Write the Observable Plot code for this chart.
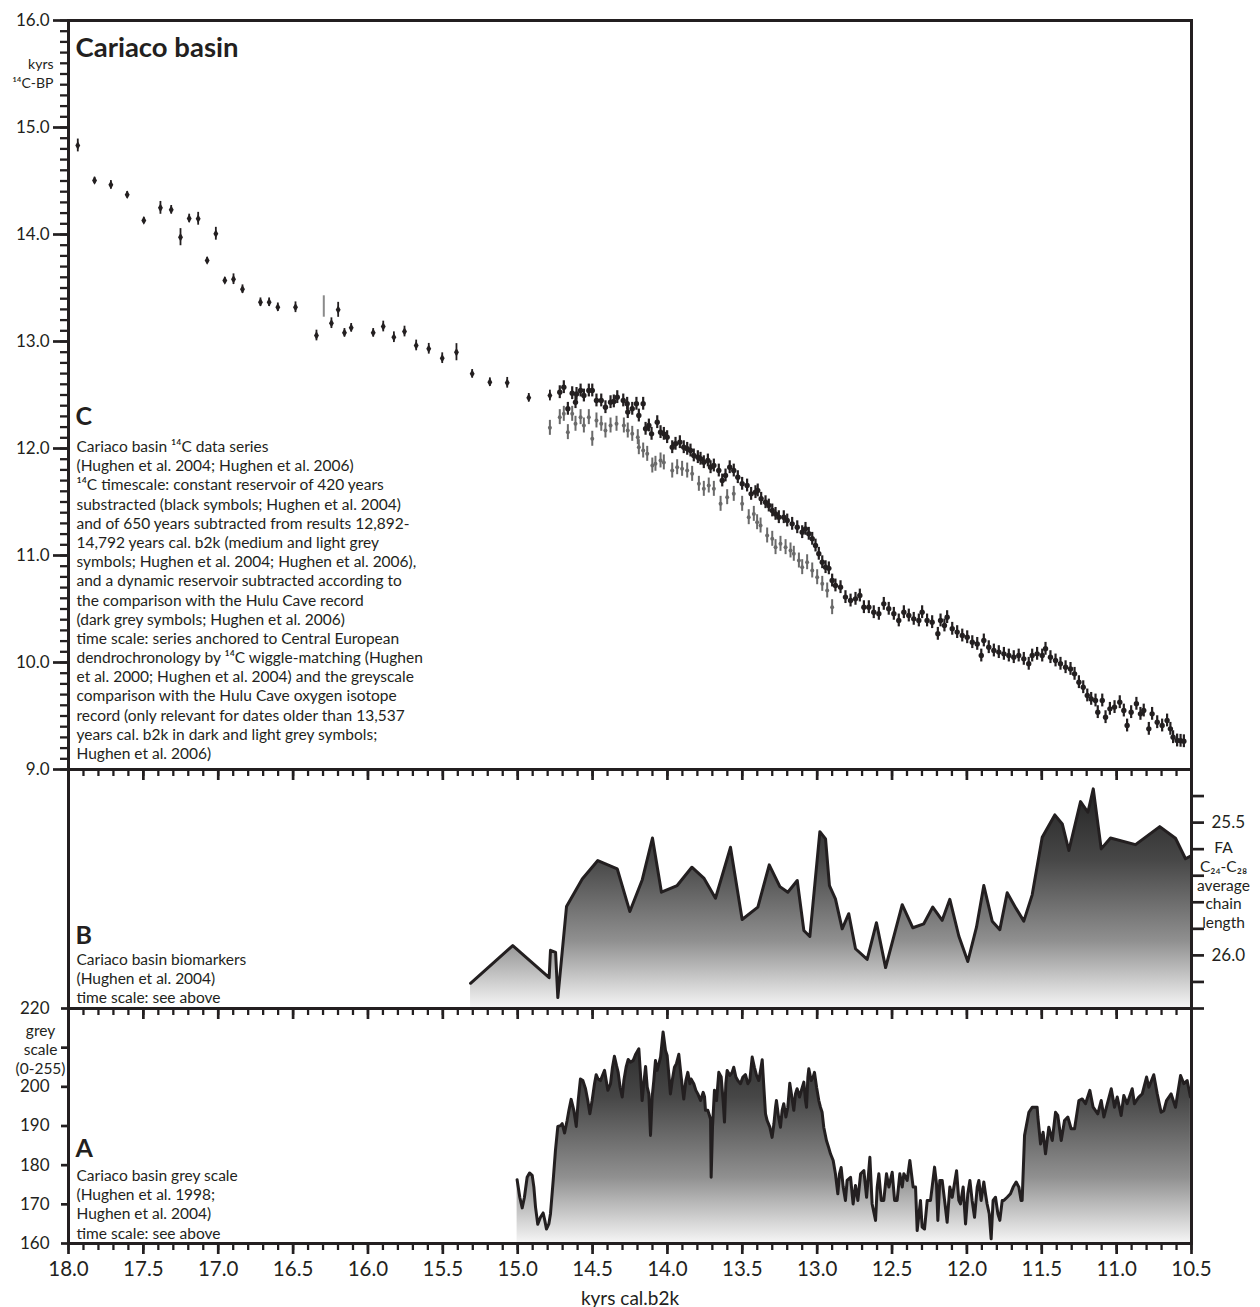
<!DOCTYPE html>
<html><head><meta charset="utf-8">
<script src="https://cdn.jsdelivr.net/npm/d3@7"></script>
<script src="https://cdn.jsdelivr.net/npm/@observablehq/plot@0.6"></script>
<style>
body{margin:0;background:#fff;}
#wrap{position:relative;width:1260px;height:1307px;}
#wrap svg{position:absolute;left:0;top:0;overflow:visible;background:transparent;}
</style></head><body><div id="wrap"></div>
<script>
// ---------- data ----------
const xDomain = [18, 10.5];
const xMinor = d3.range(105, 181).map(i => i / 10);
const xMajor = d3.range(21, 37).map(i => i / 2);
const cDomain = [9, 16];
const cMinor = d3.range(90, 161).map(i => i / 10);
const cMajor = [9, 10, 11, 12, 13, 14, 15, 16];
const bDomain = [25.3, 26.2];
const bTicks = [25.4, 25.5, 25.6, 25.7, 25.8, 25.9, 26.0, 26.1, 26.2];
const bLabels = [25.5, 26.0];
const aDomain = [160, 220];
const aTicks = [160, 170, 180, 190, 200, 210, 220];
const aLabels = [160, 170, 180, 190, 200, 220];

// Panel C: 14C ages [cal kyr b2k, 14C kyr BP, error]
const c14Sparse = [
 [17.938,14.832,0.06],[17.826,14.505,0.03],[17.717,14.464,0.04],[17.608,14.371,0.03],[17.497,14.131,0.03],
 [17.386,14.249,0.06],[17.314,14.231,0.04],[17.252,13.975,0.08],[17.194,14.150,0.04],[17.134,14.147,0.06],
 [17.074,13.757,0.03],[17.016,14.007,0.06],[16.956,13.570,0.03],[16.898,13.582,0.05],[16.838,13.489,0.04],
 [16.718,13.367,0.04],[16.660,13.367,0.04],[16.602,13.320,0.04],[16.484,13.320,0.05],[16.344,13.056,0.05],
 [16.244,13.171,0.05],[16.199,13.296,0.07],[16.157,13.081,0.04],[16.112,13.128,0.04],[15.965,13.081,0.04],
 [15.898,13.140,0.05],[15.827,13.040,0.05],[15.756,13.093,0.05],[15.678,12.963,0.05],[15.594,12.932,0.05],
 [15.504,12.844,0.05],[15.409,12.900,0.08],[15.304,12.698,0.04],[15.186,12.620,0.04],[15.070,12.614,0.05],
 [14.926,12.474,0.04],[14.785,12.495,0.05]
];
const c14Light = [[16.295,13.327,0.1]];
const c14Black = [
 [14.719,12.526],[14.692,12.573],[14.665,12.371],[14.636,12.517],[14.614,12.433],[14.607,12.510],[14.580,12.542],
 [14.558,12.495],[14.525,12.542],[14.502,12.542],[14.474,12.449],[14.442,12.449],[14.414,12.386],[14.380,12.433],
 [14.358,12.440],[14.335,12.480],[14.295,12.449],[14.269,12.418],[14.265,12.340],[14.235,12.371],[14.207,12.418],
 [14.191,12.308],[14.162,12.418],[14.146,12.184],[14.124,12.215],[14.106,12.137],[14.068,12.246],[14.046,12.153],
 [14.024,12.137],[14.002,12.106],[13.968,12.012],[13.946,12.044],[13.917,12.059],[13.891,12.012],[13.868,11.997],
 [13.846,11.981],[13.824,11.935],[13.797,11.919],[13.779,11.904],[13.757,11.872],[13.730,11.888],[13.712,11.825],
 [13.690,11.841],[13.657,11.794],[13.634,11.701],[13.612,11.748],[13.584,11.825],[13.557,11.794],[13.530,11.732],
 [13.501,11.670],[13.468,11.654],[13.441,11.576],[13.412,11.592],[13.397,11.608],[13.374,11.530],[13.345,11.498],
 [13.323,11.467],[13.300,11.421],[13.278,11.389],[13.256,11.358],[13.223,11.358],[13.200,11.327],[13.167,11.296],
 [13.133,11.264],[13.100,11.218],[13.078,11.249],[13.056,11.203],[13.033,11.156],[13.011,11.093],[12.989,11.016],
 [12.966,10.937],[12.944,10.891],[12.922,10.880],[12.900,10.766],[12.878,10.720],[12.844,10.704],[12.811,10.611],
 [12.777,10.579],[12.744,10.595],[12.715,10.626],[12.688,10.517],[12.655,10.517],[12.622,10.470],[12.588,10.455],
 [12.555,10.548],[12.522,10.502],[12.488,10.455],[12.455,10.393],[12.421,10.470],[12.388,10.439],[12.355,10.408],
 [12.321,10.393],[12.299,10.470],[12.266,10.393],[12.232,10.377],[12.194,10.268],[12.176,10.393],[12.150,10.346],
 [12.132,10.424],[12.098,10.315],[12.065,10.284],[12.031,10.252],[11.998,10.236],[11.964,10.190],[11.931,10.174],
 [11.904,10.065],[11.887,10.206],[11.854,10.143],[11.820,10.112],[11.787,10.097],[11.753,10.081],[11.720,10.065],
 [11.687,10.050],[11.654,10.065],[11.620,10.034],[11.587,9.988],[11.564,10.065],[11.531,10.081],[11.497,10.065],
 [11.475,10.128],[11.442,10.050],[11.408,10.019],[11.375,9.988],[11.341,9.956],[11.308,9.940],[11.281,9.894],
 [11.252,9.816],[11.223,9.769],[11.196,9.692],[11.170,9.660],[11.141,9.645],[11.126,9.536],[11.096,9.645],
 [11.074,9.489],[11.045,9.567],[11.014,9.583],[10.979,9.629],[10.952,9.551],[10.930,9.411],[10.903,9.536],
 [10.868,9.614],[10.841,9.520],[10.819,9.551],[10.785,9.380],[10.763,9.520],[10.729,9.442],[10.696,9.411],
 [10.663,9.458],[10.641,9.380],[10.623,9.302],[10.596,9.271],[10.573,9.268],[10.551,9.264]
];
const c14Grey = [
 [14.785,12.193],[14.719,12.293],[14.692,12.324],[14.665,12.153],[14.636,12.324],[14.614,12.231],[14.580,12.293],
 [14.558,12.215],[14.525,12.293],[14.502,12.091],[14.474,12.262],[14.442,12.231],[14.414,12.168],[14.380,12.215],
 [14.340,12.231],[14.291,12.215],[14.265,12.168],[14.235,12.137],[14.198,12.106],[14.191,12.012],[14.162,11.981],
 [14.135,11.950],[14.101,11.841],[14.080,11.857],[14.046,11.888],[14.024,11.870],[13.968,11.794],[13.935,11.825],
 [13.902,11.810],[13.868,11.794],[13.835,11.763],[13.790,11.670],[13.757,11.623],[13.724,11.654],[13.690,11.623],
 [13.645,11.483],[13.601,11.545],[13.557,11.576],[13.501,11.483],[13.457,11.358],[13.423,11.389],[13.401,11.311],
 [13.378,11.280],[13.334,11.187],[13.300,11.156],[13.278,11.078],[13.245,11.109],[13.211,11.078],[13.178,11.047],
 [13.156,11.016],[13.122,10.953],[13.100,10.891],[13.067,10.937],[13.033,10.860],[13.000,10.797],[12.966,10.735],
 [12.933,10.673],[12.900,10.517]
];
const c14BlackErr = 0.06;
const c14GreyErr = 0.07;

// Panel B: FA C24-C28 average chain length
const biomarker = [
 [15.315,26.105],[15.033,25.963],[14.790,26.084],[14.781,25.981],[14.747,25.989],[14.732,26.159],[14.674,25.816],
 [14.569,25.712],[14.465,25.643],[14.335,25.674],[14.251,25.835],[14.168,25.715],[14.100,25.558],[14.040,25.762],
 [13.935,25.737],[13.837,25.668],[13.757,25.709],[13.679,25.785],[13.579,25.593],[13.501,25.865],[13.396,25.818],
 [13.320,25.659],[13.249,25.741],[13.196,25.762],[13.133,25.718],[13.089,25.906],[13.049,25.929],[12.982,25.534],
 [12.944,25.561],[12.918,25.737],[12.878,25.787],[12.833,25.900],[12.789,25.843],[12.744,25.975],[12.666,26.015],
 [12.604,25.877],[12.543,26.046],[12.432,25.809],[12.361,25.896],[12.288,25.881],[12.228,25.818],[12.165,25.868],
 [12.114,25.789],[12.054,25.927],[11.994,26.023],[11.936,25.894],[11.887,25.737],[11.831,25.871],[11.780,25.903],
 [11.731,25.764],[11.671,25.824],[11.620,25.871],[11.564,25.772],[11.497,25.555],[11.413,25.471],[11.363,25.505],
 [11.319,25.605],[11.241,25.421],[11.192,25.461],[11.156,25.373],[11.103,25.599],[11.041,25.558],[10.874,25.583],
 [10.712,25.515],[10.607,25.559],[10.540,25.636],[10.500,25.624]
];

// Panel A: grey scale (0-255)
const greyScale = [
 [15.004,176.3],[14.986,171.8],[14.970,169.1],[14.955,171.8],[14.937,176.9],[14.921,178.0],[14.903,177.4],[14.892,174.4],
 [14.881,169.3],[14.866,164.9],[14.848,166.7],[14.830,167.8],[14.819,165.9],[14.808,163.7],[14.792,165.0],[14.781,167.6],
 [14.763,176.1],[14.748,183.7],[14.732,189.9],[14.714,190.1],[14.703,190.6],[14.687,188.2],[14.670,191.4],[14.658,194.0],
 [14.643,196.8],[14.625,194.0],[14.609,189.9],[14.596,196.5],[14.581,202.0],[14.565,201.6],[14.547,199.5],[14.532,196.5],
 [14.518,193.1],[14.503,196.5],[14.487,200.8],[14.476,203.1],[14.463,202.0],[14.447,201.6],[14.434,202.9],[14.420,204.2],
 [14.409,201.6],[14.398,199.1],[14.380,200.8],[14.367,205.0],[14.354,207.8],[14.340,205.4],[14.329,203.7],[14.316,199.9],
 [14.302,197.4],[14.291,201.6],[14.276,205.0],[14.262,207.0],[14.247,206.3],[14.229,206.7],[14.211,208.4],[14.191,209.7],
 [14.180,203.3],[14.169,196.5],[14.158,200.8],[14.146,205.2],[14.135,199.9],[14.124,198.2],[14.113,187.6],[14.102,197.4],
 [14.091,201.6],[14.080,206.7],[14.069,204.2],[14.057,205.9],[14.046,207.6],[14.029,214.0],[14.013,209.3],[14.002,208.0],
 [13.991,203.3],[13.980,198.2],[13.968,201.6],[13.953,205.0],[13.940,205.9],[13.924,208.3],[13.908,202.5],[13.891,196.9],
 [13.877,201.6],[13.864,203.7],[13.850,200.8],[13.842,202.0],[13.824,200.8],[13.810,199.1],[13.797,198.2],[13.779,196.5],
 [13.761,198.6],[13.752,197.4],[13.746,194.0],[13.730,194.0],[13.712,191.8],[13.708,176.9],[13.699,189.7],[13.686,199.1],
 [13.672,196.5],[13.657,203.7],[13.641,202.5],[13.628,196.5],[13.619,191.0],[13.610,200.8],[13.601,204.2],[13.583,202.9],
 [13.568,203.7],[13.557,205.0],[13.543,202.5],[13.530,201.6],[13.512,200.8],[13.496,202.5],[13.479,203.1],[13.463,200.8],
 [13.450,201.6],[13.434,207.6],[13.419,205.0],[13.405,202.9],[13.390,201.6],[13.378,204.2],[13.367,206.9],[13.356,199.9],
 [13.345,193.1],[13.334,191.4],[13.316,189.7],[13.301,187.1],[13.289,190.5],[13.278,194.8],[13.272,196.5],[13.258,192.3],
 [13.245,189.7],[13.234,194.0],[13.223,195.7],[13.209,192.3],[13.196,194.8],[13.183,200.9],[13.169,197.4],[13.156,194.0],
 [13.145,198.2],[13.134,199.5],[13.118,197.4],[13.102,199.5],[13.089,201.2],[13.078,196.5],[13.071,194.8],[13.062,202.5],
 [13.056,204.6],[13.040,201.6],[13.027,202.5],[13.018,203.7],[13.004,199.9],[12.989,196.5],[12.978,194.8],[12.967,193.5],
 [12.956,189.7],[12.938,186.3],[12.924,184.6],[12.911,182.9],[12.893,181.2],[12.878,177.8],[12.862,172.7],[12.851,177.8],
 [12.840,179.4],[12.826,174.4],[12.811,171.0],[12.800,176.1],[12.777,176.9],[12.760,170.1],[12.744,174.8],[12.728,171.0],
 [12.710,177.8],[12.688,178.6],[12.670,171.8],[12.648,182.0],[12.633,170.1],[12.610,165.9],[12.599,174.4],[12.588,177.8],
 [12.572,171.0],[12.555,171.0],[12.537,177.8],[12.521,174.4],[12.499,178.2],[12.483,171.0],[12.466,171.0],[12.448,177.8],
 [12.432,174.4],[12.421,177.8],[12.399,176.1],[12.381,181.2],[12.359,174.4],[12.343,174.4],[12.332,163.3],[12.310,171.0],
 [12.299,164.2],[12.283,163.7],[12.265,171.0],[12.243,171.0],[12.216,179.5],[12.203,175.2],[12.194,165.9],[12.181,176.1],
 [12.165,176.1],[12.149,171.0],[12.132,165.4],[12.114,174.4],[12.098,171.8],[12.069,178.6],[12.054,171.0],[12.043,170.1],
 [12.025,174.4],[12.009,165.0],[11.994,172.7],[11.980,176.1],[11.965,171.0],[11.949,166.7],[11.931,174.4],[11.920,176.1],
 [11.905,171.0],[11.887,175.7],[11.876,172.7],[11.865,170.1],[11.851,167.6],[11.838,161.2],[11.825,171.0],[11.809,171.8],
 [11.793,167.6],[11.780,165.9],[11.764,171.0],[11.753,171.0],[11.731,171.8],[11.709,172.7],[11.691,174.4],[11.671,175.7],
 [11.653,174.4],[11.638,171.0],[11.631,171.0],[11.615,187.6],[11.586,193.5],[11.564,194.8],[11.531,194.8],[11.526,192.3],
 [11.508,185.4],[11.491,188.4],[11.475,182.9],[11.453,189.7],[11.430,186.3],[11.408,193.5],[11.393,192.7],[11.370,186.3],
 [11.348,191.4],[11.326,192.3],[11.304,189.3],[11.281,189.3],[11.252,196.5],[11.230,196.9],[11.208,195.7],[11.179,199.1],
 [11.157,194.8],[11.126,193.1],[11.103,196.5],[11.085,192.3],[11.036,199.5],[11.014,194.8],[10.996,197.4],[10.970,192.7],
 [10.952,197.8],[10.930,195.7],[10.896,199.5],[10.881,195.7],[10.852,197.4],[10.829,198.2],[10.800,202.5],[10.785,199.9],
 [10.752,203.1],[10.729,198.2],[10.703,193.5],[10.685,193.9],[10.667,196.5],[10.636,198.2],[10.607,194.8],[10.573,202.9],
 [10.551,200.8],[10.529,201.6],[10.507,197.4]
];

const titleText = "Cariaco basin";
const cText = ["Cariaco basin ¹⁴C data series","(Hughen et al. 2004; Hughen et al. 2006)","¹⁴C timescale: constant reservoir of 420 years","substracted (black symbols; Hughen et al. 2004)","and of 650 years subtracted from results 12,892-","14,792 years cal. b2k (medium and light grey","symbols; Hughen et al. 2004; Hughen et al. 2006),","and a dynamic reservoir subtracted according to","the comparison with the Hulu Cave record","(dark grey symbols; Hughen et al. 2006)","time scale: series anchored to Central European","dendrochronology by ¹⁴C wiggle-matching (Hughen","et al. 2000; Hughen et al. 2004) and the greyscale","comparison with the Hulu Cave oxygen isotope","record (only relevant for dates older than 13,537","years cal. b2k in dark and light grey symbols;","Hughen et al. 2006)"];
const bText = ["Cariaco basin biomarkers","(Hughen et al. 2004)","time scale: see above"];
const aText = ["Cariaco basin grey scale","(Hughen et al. 1998;","Hughen et al. 2004)","time scale: see above"];
const cUnit = ["kyrs","¹⁴C-BP"];
const bUnit = ["FA","C₂₄-C₂₈","average","chain","length"];
const aUnit = ["grey","scale","(0-255)"];
const xLabel = "kyrs cal.b2k";

// ---------- layout ----------
const W = 1260, H = 1307;
const ML = 68, MR = 69;
const cTop = 20, cBot = 769, bBot = 1008, aBot = 1243;
const INK = "#231f20";
const FONT = "Lato, 'Open Sans', sans-serif";
const wrap = document.getElementById("wrap");

function xAxes(withLabels) {
  return [
    Plot.axisX(xMinor, {anchor: "bottom", tickSize: 7, strokeWidth: 2.3, tickFormat: () => "", label: null, color: INK}),
    Plot.axisX(xMajor, {anchor: "bottom", tickSize: 11, strokeWidth: 2.7, tickPadding: 7, fontSize: 20.5,
      tickFormat: withLabels ? (d => d.toFixed(1)) : (() => ""), label: null, color: INK})
  ];
}
function txt(lines, o) {
  return Plot.text([lines.join("\n")], Object.assign({text: d => d, fill: INK, fontFamily: FONT}, o));
}
function addGradient(svg, id, y0, y1) {
  const lg = d3.select(svg).insert("defs", ":first-child").append("linearGradient")
    .attr("id", id).attr("gradientUnits", "userSpaceOnUse")
    .attr("x1", 0).attr("x2", 0).attr("y1", y0).attr("y2", y1);
  [[0, "#1a1a1a"], [0.38, "#474747"], [0.72, "#909090"], [1, "#f6f6f6"]]
    .forEach(([o, c]) => lg.append("stop").attr("offset", o).attr("stop-color", c));
}
const common = {width: W, height: H, marginLeft: ML, marginRight: MR,
  style: {background: "transparent", overflow: "visible", fontFamily: FONT}};

// ---------- Panel C ----------
const pC = Plot.plot({...common, marginTop: cTop, marginBottom: H - cBot,
  x: {domain: xDomain}, y: {domain: cDomain},
  marks: [
    Plot.axisY(cMinor, {anchor: "left", tickSize: 8, strokeWidth: 2.3, tickFormat: () => "", label: null, color: INK}),
    Plot.axisY(cMajor, {anchor: "left", tickSize: 15, strokeWidth: 2.7, tickPadding: 4, fontSize: 17,
      tickFormat: d => d.toFixed(1), label: null, color: INK}),
    ...xAxes(false),
    Plot.ruleX(c14Light, {x: d => d[0], y1: d => d[1] - d[2], y2: d => d[1] + d[2], stroke: "#8a8a8a", strokeWidth: 2}),
    Plot.ruleX(c14Grey, {x: d => d[0], y1: d => d[1] - c14GreyErr, y2: d => d[1] + c14GreyErr, stroke: "#6a6a6a", strokeWidth: 2}),
    Plot.dot(c14Grey, {x: d => d[0], y: d => d[1], r: 2, fill: "#6a6a6a"}),
    Plot.ruleX(c14Sparse, {x: d => d[0], y1: d => d[1] - d[2], y2: d => d[1] + d[2], stroke: INK, strokeWidth: 1.8}),
    Plot.dot(c14Sparse, {x: d => d[0], y: d => d[1], r: 2.6, symbol: "diamond", fill: INK}),
    Plot.ruleX(c14Black, {x: d => d[0], y1: d => d[1] - c14BlackErr, y2: d => d[1] + c14BlackErr, stroke: INK, strokeWidth: 2.2}),
    Plot.dot(c14Black, {x: d => d[0], y: d => d[1], r: 2.7, fill: INK}),
    Plot.frame({stroke: INK, strokeWidth: 3}),
    txt([titleText], {frameAnchor: "top-left", dx: 7, dy: 17, fontSize: 27.5, fontWeight: 700, lineAnchor: "top"}),
    txt(cUnit, {frameAnchor: "top-left", dx: -15, dy: 35, fontSize: 14, lineAnchor: "top", textAnchor: "end", lineHeight: 1.35}),
    txt(["C"], {frameAnchor: "top-left", dx: 7, dy: 387, fontSize: 25, fontWeight: 700, lineAnchor: "top"}),
    txt(cText, {frameAnchor: "top-left", dx: 8, dy: 418, fontSize: 15.5, lineAnchor: "top", lineHeight: 1.237})
  ]});
wrap.appendChild(pC);

// ---------- Panel B ----------
const pB = Plot.plot({...common, marginTop: cBot, marginBottom: H - bBot,
  x: {domain: xDomain}, y: {domain: bDomain, reverse: true},
  marks: [
    Plot.areaY(biomarker, {x: d => d[0], y1: () => bDomain[1], y2: d => d[1], fill: "url(#gradB)"}),
    Plot.lineY(biomarker, {x: d => d[0], y: d => d[1], stroke: INK, strokeWidth: 3}),
    Plot.axisY(bTicks, {anchor: "right", tickSize: 12, strokeWidth: 2.7, tickPadding: 8, fontSize: 17,
      tickFormat: d => bLabels.includes(d) ? d.toFixed(1) : "", label: null, color: INK}),
    ...xAxes(false),
    Plot.frame({stroke: INK, strokeWidth: 3}),
    txt(["B"], {frameAnchor: "top-left", dx: 7, dy: 157, fontSize: 25, fontWeight: 700, lineAnchor: "top"}),
    txt(bText, {frameAnchor: "top-left", dx: 8, dy: 182, fontSize: 15.5, lineAnchor: "top", lineHeight: 1.237}),
    txt(bUnit, {frameAnchor: "top-right", dx: 32, dy: 115, fontSize: 15.5, lineAnchor: "middle", textAnchor: "middle", lineHeight: 1.22})
  ]});
addGradient(pB, "gradB", cBot, bBot);
wrap.appendChild(pB);

// ---------- Panel A ----------
const pA = Plot.plot({...common, marginTop: bBot, marginBottom: H - aBot,
  x: {domain: xDomain}, y: {domain: aDomain},
  marks: [
    Plot.areaY(greyScale, {x: d => d[0], y1: () => aDomain[0], y2: d => d[1], fill: "url(#gradA)"}),
    Plot.lineY(greyScale, {x: d => d[0], y: d => d[1], stroke: INK, strokeWidth: 3}),
    Plot.axisY(aTicks, {anchor: "left", tickSize: 7, strokeWidth: 2.7, tickPadding: 12, fontSize: 17,
      tickFormat: d => aLabels.includes(d) ? String(d) : "", label: null, color: INK}),
    ...xAxes(true),
    Plot.frame({stroke: INK, strokeWidth: 3}),
    txt(["A"], {frameAnchor: "top-left", dx: 7, dy: 131, fontSize: 25, fontWeight: 700, lineAnchor: "top"}),
    txt(aText, {frameAnchor: "top-left", dx: 8, dy: 159, fontSize: 15.5, lineAnchor: "top", lineHeight: 1.237}),
    txt(aUnit, {frameAnchor: "top-left", dx: -28, dy: 40, fontSize: 15.5, lineAnchor: "middle", textAnchor: "middle", lineHeight: 1.23}),
    txt([xLabel], {frameAnchor: "bottom", dy: 61, fontSize: 19, lineAnchor: "bottom"})
  ]});
addGradient(pA, "gradA", bBot, aBot);
wrap.appendChild(pA);
</script></body></html>
